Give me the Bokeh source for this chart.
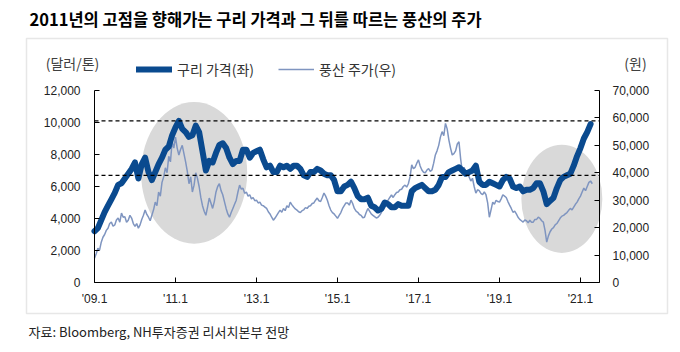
import numpy as np
from bokeh.plotting import figure
from bokeh.models import (Range1d, LinearAxis, FixedTicker, Label, Legend,
                          LegendItem, BoxAnnotation, NumeralTickFormatter)
from bokeh.embed import file_html
from bokeh.resources import INLINE

# ---- data ----
start_year = 2009
# copper, monthly 2009.01 - 2021.04 (USD/ton)
copper = [
    3200, 3400, 3900, 4400, 4800, 5200, 5600, 6100, 6200, 6500, 6800, 7100,
    7500, 6500, 7400, 7800, 6900, 6400, 6900, 7400, 7800, 8300, 8500, 9200,
    9700, 10100, 9600, 9400, 9100, 9200, 9800, 9400, 8200, 7000, 7600, 7500,
    8100, 8600, 8700, 8400, 7800, 7400, 7600, 7600, 8300, 8300, 7800, 8100,
    8200, 8300, 7700, 7200, 7300, 6900, 6900, 7300, 7200, 7300, 7100, 7300,
    7300, 7100, 6700, 6600, 6900, 6900, 7100, 7000, 6800, 6700, 6700, 6400,
    5700, 5700, 6000, 6100, 6300, 5900, 5400, 5200, 5200, 5300, 4800, 4700,
    4500, 4600, 5000, 4900, 4700, 4700, 4900, 4800, 4800, 4800, 5700, 5900,
    6000, 6100, 5900, 5700, 5700, 5800, 6100, 6600, 6600, 6900, 7000, 7100,
    7200, 7000, 6800, 6900, 7000, 7300, 6300, 6100, 6100, 6300, 6200, 6100,
    6000, 6400, 6600, 6500, 6000, 5900, 6000, 5700, 5800, 5800, 5900, 6200,
    6200, 5700, 4900, 5100, 5300, 5900, 6400, 6600, 6700, 6800, 7300, 7900,
    8400, 9000, 9400, 9900,
]
# Poongsan share price, twice a month 2009.01 - 2021.04 (KRW)
poongsan = [
    8800, 10500, 12500, 11800, 14700, 16500, 17500, 19000, 19800, 21500, 22000, 20500,
    21000, 22800, 23500, 22000, 25300, 23800, 24000, 22000, 22700, 24500, 23500, 21500,
    20500, 21500, 19800, 21000, 23000, 24500, 26400, 24800, 23800, 22500, 24500, 26500,
    29300, 28000, 33000, 31500, 36500, 38500, 41800, 40000, 46000, 44000, 51300, 49000,
    53000, 49000, 46500, 48500, 50000, 47000, 44000, 40500, 36000, 38500, 33000, 35500,
    40000, 38000, 35000, 31000, 28000, 26000, 24500, 27500, 30800, 29000, 27000, 29500,
    33000, 35000, 36000, 33500, 32000, 29500, 27000, 25000, 23800, 25500, 27000, 28500,
    30000, 33000, 35500, 34000, 34400, 32500, 33000, 31500, 32000, 30500, 31000, 29800,
    30000, 29000, 29300, 28200, 28000, 27500, 27000, 25800, 25000, 23800, 22700, 23500,
    24500, 25500, 26400, 25600, 27000, 26200, 28000, 27300, 29300, 28300, 27500, 26800,
    26400, 25800, 25500, 26200, 26500, 27300, 27000, 27800, 28000, 28800, 29000, 30000,
    30800, 29800, 29500, 31000, 32600, 31500, 30000, 28000, 26400, 25500, 25000, 24200,
    23400, 24500, 25500, 27000, 28000, 29000, 29000, 28200, 30000, 28800, 27000, 26000,
    25600, 24800, 24500, 23600, 23800, 25500, 27000, 26000, 25000, 24500, 24000, 23500,
    23800, 24500, 25500, 27000, 28200, 29500, 30000, 31000, 31900, 31000, 32000, 32800,
    33000, 33800, 34000, 35000, 35500, 34800, 36000, 38500, 42900, 41500, 42000, 43500,
    44700, 42500, 41000, 40200, 40000, 41000, 41500, 40500, 41000, 43500, 46500, 48000,
    50000, 53000, 55000, 53500, 58000, 56000, 52000, 49000, 46500, 47000, 48000, 50500,
    51300, 45000, 40300, 42000, 40500, 39500, 38500, 37000, 38000, 35000, 32600, 33800,
    33500, 32500, 32000, 33000, 32000, 29000, 23800, 26500, 29300, 28500, 30000, 29500,
    29300, 30500, 32000, 31500, 31000, 29500, 28200, 27000, 25600, 26000, 25000, 23800,
    23000, 22500, 22000, 22800, 22500, 21800, 22700, 22000, 22000, 23000, 23000, 23800,
    23400, 22500, 22000, 19000, 14700, 17000, 18500, 19500, 20000, 21000, 21500, 22500,
    23500, 24200, 24500, 25000, 25500, 26300, 27000, 26500, 27500, 28500, 29300, 30500,
    31500, 33000, 34400, 33500, 35000, 36500, 37000, 36000,
]
x_ticks = [2009, 2011, 2013, 2015, 2017, 2019, 2021]
x_tick_labels = ["'09.1", "'11.1", "'13.1", "'15.1", "'17.1", "'19.1", "'21.1"]
left_ticks = [0, 2000, 4000, 6000, 8000, 10000, 12000]
right_ticks = [0, 10000, 20000, 30000, 40000, 50000, 60000, 70000]
ref_levels = [10100, 6700]
x_min, x_max = 2009.0, 2021.47
left_max, right_max = 12000, 70000
# highlight ellipses (center year, center usd, width years, height usd)
hl_x = [2011.46, 2020.54]
hl_y = [6855, 5232]
hl_w = [2.62, 2.0]
hl_h = [8855, 6767]

x_cu = start_year + np.arange(len(copper)) / 12.0
x_ps = start_year + np.arange(len(poongsan)) / 24.0

# ---- layout (pixels) ----
W, H = 680, 352
PL, PR, PT, PB = 94, 599, 90, 282     # plot-area edges on the canvas
sx = (PR - PL) / (x_max - x_min)
syl = (PB - PT) / left_max
syr = (PB - PT) / right_max

FONT_K = "Noto Sans CJK KR"
FONT_N = "Liberation Sans"

p = figure(width=W, height=H, output_backend="svg", toolbar_location=None,
           x_range=Range1d(x_min - PL / sx, x_max + (W - PR) / sx),
           y_range=Range1d(-(H - PB) / syl, left_max + PT / syl),
           min_border=0, min_border_left=0, min_border_right=0,
           min_border_top=0, min_border_bottom=0,
           x_axis_type=None, y_axis_type=None)
p.extra_y_ranges = {"right": Range1d(-(H - PB) / syr, right_max + PT / syr)}
p.outline_line_color = None
p.background_fill_color = "white"
p.border_fill_color = "white"
p.xgrid.visible = False
p.ygrid.visible = False

p.ellipse(x=hl_x, y=hl_y, width=hl_w, height=hl_h, fill_color="#d9d9d9",
          line_color=None)
ps = p.line(x_ps, poongsan, y_range_name="right", line_color="#7f95c0",
            line_width=1.5)
cu = p.line(x_cu, copper, line_color="#0a4a8f", line_width=6, line_join="round",
            line_cap="round")
for lv in ref_levels:
    p.line([x_min, x_max], [lv, lv], line_color="black", line_width=1.2,
           line_dash="4 3")


def style_axis(ax):
    ax.axis_line_color = "black"
    ax.axis_line_width = 1
    ax.major_tick_in = 5
    ax.major_tick_out = 0
    ax.minor_tick_line_color = None
    ax.major_tick_line_color = "black"
    ax.major_label_text_font = FONT_N
    ax.major_label_text_font_size = "12px"
    ax.major_label_text_color = "#222222"


xa = LinearAxis(ticker=FixedTicker(ticks=x_ticks), fixed_location=0,
                bounds=(x_min, x_max),
                major_label_overrides={t: l for t, l in zip(x_ticks, x_tick_labels)})
style_axis(xa)
xa.major_label_standoff = 9
p.add_layout(xa, "below")

ya = LinearAxis(ticker=FixedTicker(ticks=left_ticks), fixed_location=x_min,
                bounds=(0, left_max), formatter=NumeralTickFormatter(format="0,0"))
style_axis(ya)
ya.major_label_standoff = 14
p.add_layout(ya, "left")

yr = LinearAxis(y_range_name="right", ticker=FixedTicker(ticks=right_ticks),
                fixed_location=x_max, bounds=(0, right_max),
                formatter=NumeralTickFormatter(format="0,0"))
style_axis(yr)
yr.major_label_standoff = 13
p.add_layout(yr, "right")

legend = Legend(items=[LegendItem(label="구리 가격(좌)", renderers=[cu]),
                       LegendItem(label="풍산 주가(우)", renderers=[ps])],
                orientation="horizontal", location=(136, H - 79),
                glyph_width=36, glyph_height=20, label_standoff=5, spacing=24,
                padding=0, margin=0, border_line_color=None,
                background_fill_alpha=0, label_text_font=FONT_K,
                label_text_font_size="14px", label_text_color="#333333")
p.add_layout(legend)

# outer frame box
p.add_layout(BoxAnnotation(left=26, right=667, top=H - 38, bottom=H - 313,
                           left_units="screen", right_units="screen",
                           top_units="screen", bottom_units="screen",
                           fill_alpha=0, line_color="#b0b0b0", line_width=1.5))

p.add_layout(Label(x=29, y=H - 18, x_units="screen", y_units="screen",
                   text="2011년의 고점을 향해가는 구리 가격과 그 뒤를 따르는 풍산의 주가",
                   text_font=FONT_K, text_font_size="16.5px", text_font_style="bold",
                   text_color="black", text_baseline="middle"))
p.add_layout(Label(x=72, y=H - 62, x_units="screen", y_units="screen",
                   text="(달러/톤)", text_font=FONT_K, text_font_size="14px",
                   text_color="#404040", text_align="center", text_baseline="middle"))
p.add_layout(Label(x=635, y=H - 62, x_units="screen", y_units="screen",
                   text="(원)", text_font=FONT_K, text_font_size="14px",
                   text_color="#404040", text_align="center", text_baseline="middle"))
p.add_layout(Label(x=28, y=H - 331, x_units="screen", y_units="screen",
                   text="자료: Bloomberg, NH투자증권 리서치본부 전망",
                   text_font=FONT_K, text_font_size="13px",
                   text_color="#222222", text_baseline="middle"))

open("out.html", "w").write(file_html(p, INLINE))
